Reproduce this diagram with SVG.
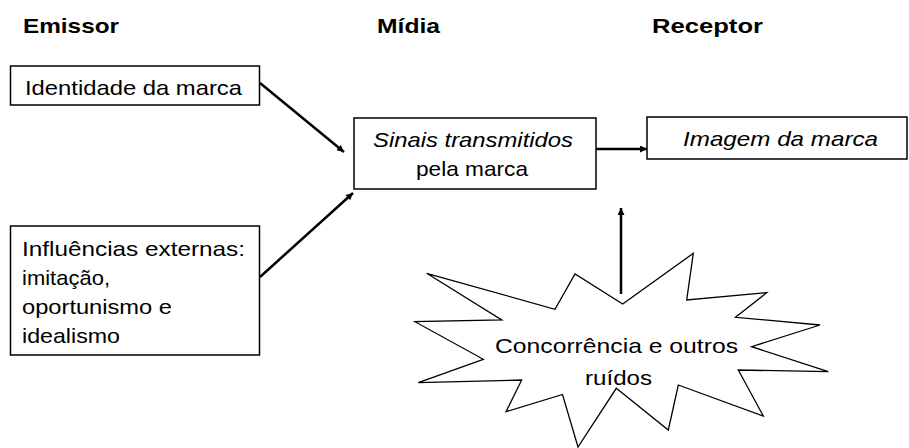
<svg xmlns="http://www.w3.org/2000/svg" width="909" height="448" viewBox="0 0 909 448">
  <style>
    .box { fill: #ffffff; stroke: #000000; stroke-width: 1.5; }
    .txt { font-family: "Liberation Sans", Arial, sans-serif; font-size: 21px; fill: #000000; }
    .head { font-weight: bold; font-size: 21px; }
    .it { font-style: italic; }
    .wire { fill: none; stroke: #000000; stroke-width: 2.5; marker-end: url(#arrow); }
    .burst { fill: #ffffff; stroke: #000000; stroke-width: 1.3; stroke-linejoin: miter; }
  </style>
  <defs>
    <marker id="arrow" viewBox="0 0 10 10" refX="10" refY="5" markerWidth="9" markerHeight="7" markerUnits="userSpaceOnUse" orient="auto">
      <path d="M0,0 L10,5 L0,10 z" fill="#000000"/>
    </marker>
  </defs>
  <rect width="909" height="448" fill="#ffffff"/>

  <!-- column headings -->
  <g id="headings">
    <text class="txt head" x="23" y="33" textLength="96" lengthAdjust="spacingAndGlyphs">Emissor</text>
    <text class="txt head" x="377" y="33" textLength="63" lengthAdjust="spacingAndGlyphs">Mídia</text>
    <text class="txt head" x="652" y="33" textLength="111" lengthAdjust="spacingAndGlyphs">Receptor</text>
  </g>

  <!-- connectors -->
  <g id="connectors">
    <line class="wire" x1="260" y1="83" x2="344" y2="152"/>
    <line class="wire" x1="260" y1="277" x2="353" y2="193"/>
    <line class="wire" x1="596" y1="149" x2="647" y2="149"/>
    <line class="wire" x1="621" y1="294" x2="621" y2="208"/>
  </g>

  <g id="identidade">
    <rect class="box" x="10.5" y="66" width="249" height="39"/>
    <text class="txt" x="25" y="95" textLength="217" lengthAdjust="spacingAndGlyphs">Identidade da marca</text>
  </g>

  <g id="influencias">
    <rect class="box" x="10.5" y="226" width="249" height="129"/>
    <text class="txt" x="22" y="256" textLength="223" lengthAdjust="spacingAndGlyphs">Influências externas:</text>
    <text class="txt" x="22" y="285" textLength="88" lengthAdjust="spacingAndGlyphs">imitação,</text>
    <text class="txt" x="22" y="314" textLength="150" lengthAdjust="spacingAndGlyphs">oportunismo e</text>
    <text class="txt" x="22" y="343" textLength="98" lengthAdjust="spacingAndGlyphs">idealismo</text>
  </g>

  <g id="sinais">
    <rect class="box" x="354" y="118" width="242" height="71"/>
    <text class="txt it" x="373" y="147" textLength="200" lengthAdjust="spacingAndGlyphs">Sinais transmitidos</text>
    <text class="txt" x="416" y="176" textLength="112" lengthAdjust="spacingAndGlyphs">pela marca</text>
  </g>

  <g id="imagem">
    <rect class="box" x="647" y="117" width="260" height="42"/>
    <text class="txt it" x="683" y="146" textLength="195" lengthAdjust="spacingAndGlyphs">Imagem da marca</text>
  </g>

  <g id="ruidos">
    <polygon class="burst" points="622.7,304 693.3,253.3 686.7,300 766.7,292.7 735.5,317.3 820,325 751.7,346.7 828.3,371.7 738.3,370 763.3,416 678.3,385 668.3,430 616.3,388.3 578,447 562.5,394.5 506,411.7 521.7,380 418.3,382.7 483.3,359.3 415,321.7 501.7,320 426.7,273.3 555,309.3 575,274"/>
    <text class="txt" x="495" y="353" textLength="243" lengthAdjust="spacingAndGlyphs">Concorrência e outros</text>
    <text class="txt" x="585" y="385" textLength="67" lengthAdjust="spacingAndGlyphs">ruídos</text>
  </g>
</svg>
